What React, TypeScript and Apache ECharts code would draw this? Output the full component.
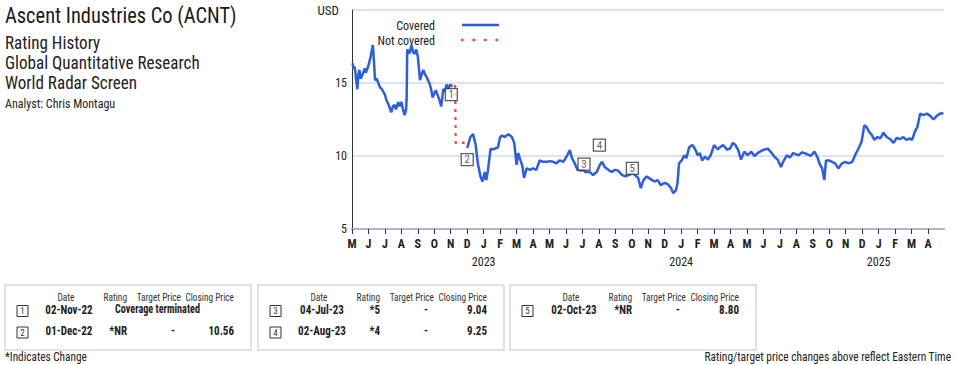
import React, { useEffect, useRef } from "react";
import * as echarts from "echarts";

const FONT = '"Roboto Condensed", Roboto, sans-serif';

// ---- data ----
const coveredBefore: [string, number][] = [
  ["2022-05-02", 16.35], ["2022-05-04", 16.0], ["2022-05-06", 16.1], ["2022-05-09", 15.2], ["2022-05-11", 14.57],
  ["2022-05-13", 15.6], ["2022-05-15", 15.9], ["2022-05-17", 15.3], ["2022-05-19", 15.4], ["2022-05-23", 15.8],
  ["2022-05-25", 16.0], ["2022-05-27", 15.7], ["2022-06-01", 16.2], ["2022-06-05", 16.8], ["2022-06-09", 17.6],
  ["2022-06-11", 16.5], ["2022-06-13", 15.2], ["2022-06-16", 15.3], ["2022-06-19", 15.0], ["2022-06-22", 14.7],
  ["2022-06-25", 14.6], ["2022-06-28", 14.4], ["2022-07-01", 14.2], ["2022-07-04", 13.8], ["2022-07-07", 13.6],
  ["2022-07-10", 13.3], ["2022-07-13", 13.0], ["2022-07-16", 13.4], ["2022-07-19", 13.5], ["2022-07-22", 13.2],
  ["2022-07-26", 13.7], ["2022-07-29", 13.4], ["2022-08-01", 13.7], ["2022-08-04", 13.2], ["2022-08-07", 12.8],
  ["2022-08-10", 13.2], ["2022-08-11", 14.1], ["2022-08-12", 17.3], ["2022-08-16", 17.0], ["2022-08-20", 17.6],
  ["2022-08-23", 17.1], ["2022-08-26", 17.0], ["2022-08-29", 17.3], ["2022-09-01", 16.8], ["2022-09-05", 15.2],
  ["2022-09-08", 15.6], ["2022-09-11", 15.9], ["2022-09-14", 15.6], ["2022-09-17", 15.4], ["2022-09-22", 15.0],
  ["2022-09-25", 14.6], ["2022-09-28", 14.0], ["2022-10-01", 14.3], ["2022-10-04", 14.5], ["2022-10-08", 14.1],
  ["2022-10-11", 13.8], ["2022-10-14", 13.4], ["2022-10-16", 14.0], ["2022-10-18", 14.6], ["2022-10-21", 14.4],
  ["2022-10-24", 14.9], ["2022-10-28", 14.6], ["2022-10-31", 14.9], ["2022-11-02", 14.8],
];

const notCovered: [string, number][] = [
  ["2022-11-02", 14.8], ["2022-11-06", 14.9], ["2022-11-09", 15.0], ["2022-11-10", 10.9],
  ["2022-11-28", 10.9], ["2022-12-01", 10.56],
];

const coveredAfter: [string, number][] = [
  ["2022-12-01", 10.56], ["2022-12-07", 11.3], ["2022-12-12", 11.5], ["2022-12-17", 10.75], ["2022-12-21", 9.5],
  ["2022-12-26", 8.6], ["2022-12-30", 8.25], ["2023-01-03", 8.9], ["2023-01-06", 8.35], ["2023-01-09", 9.0],
  ["2023-01-14", 10.5], ["2023-01-18", 10.45], ["2023-01-22", 10.5], ["2023-01-28", 10.6], ["2023-02-01", 11.3],
  ["2023-02-04", 11.4], ["2023-02-09", 11.3], ["2023-02-15", 11.5], ["2023-02-21", 11.3], ["2023-02-25", 10.9],
  ["2023-03-01", 9.4], ["2023-03-04", 10.2], ["2023-03-07", 9.85], ["2023-03-12", 9.3], ["2023-03-15", 8.5],
  ["2023-03-20", 9.15], ["2023-03-26", 9.05], ["2023-04-01", 9.15], ["2023-04-07", 9.05], ["2023-04-13", 9.7],
  ["2023-04-19", 9.6], ["2023-04-26", 9.6], ["2023-05-02", 9.65], ["2023-05-08", 9.6], ["2023-05-14", 9.5],
  ["2023-05-20", 9.7], ["2023-05-27", 9.6], ["2023-06-02", 9.95], ["2023-06-08", 10.4], ["2023-06-12", 9.85],
  ["2023-06-17", 9.5], ["2023-06-22", 9.05], ["2023-06-28", 9.0], ["2023-07-04", 9.04], ["2023-07-06", 8.9],
  ["2023-07-15", 8.9], ["2023-07-21", 8.7], ["2023-07-28", 8.9], ["2023-08-03", 9.4], ["2023-08-07", 9.6],
  ["2023-08-12", 9.25], ["2023-08-19", 9.05], ["2023-08-25", 8.9], ["2023-08-31", 9.05], ["2023-09-06", 9.0],
  ["2023-09-13", 8.7], ["2023-09-19", 8.6], ["2023-09-25", 8.7], ["2023-10-02", 8.8], ["2023-10-07", 8.7],
  ["2023-10-13", 8.5], ["2023-10-18", 7.8], ["2023-10-23", 8.35], ["2023-10-29", 8.6], ["2023-11-02", 8.5],
  ["2023-11-06", 8.4], ["2023-11-12", 8.25], ["2023-11-18", 8.35], ["2023-11-24", 8.0], ["2023-11-30", 8.15],
  ["2023-12-06", 8.1], ["2023-12-13", 7.8], ["2023-12-17", 7.45], ["2023-12-22", 7.65], ["2023-12-25", 8.1],
  ["2023-12-28", 9.5], ["2024-01-02", 9.7], ["2024-01-07", 10.05], ["2024-01-11", 9.85], ["2024-01-16", 10.6],
  ["2024-01-22", 10.75], ["2024-01-27", 10.5], ["2024-02-01", 10.05], ["2024-02-05", 10.2], ["2024-02-09", 9.7],
  ["2024-02-14", 9.95], ["2024-02-19", 9.75], ["2024-02-24", 10.05], ["2024-03-01", 10.75], ["2024-03-08", 10.45],
  ["2024-03-12", 10.6], ["2024-03-18", 10.75], ["2024-03-25", 10.45], ["2024-03-31", 10.5], ["2024-04-05", 10.9],
  ["2024-04-10", 10.75], ["2024-04-15", 10.4], ["2024-04-20", 9.75], ["2024-04-26", 10.3], ["2024-05-02", 10.05],
  ["2024-05-09", 10.3], ["2024-05-15", 10.0], ["2024-05-21", 10.2], ["2024-05-28", 10.35], ["2024-06-03", 10.45],
  ["2024-06-09", 10.5], ["2024-06-15", 10.25], ["2024-06-21", 9.95], ["2024-06-27", 9.75], ["2024-07-03", 9.25],
  ["2024-07-07", 9.6], ["2024-07-14", 10.05], ["2024-07-20", 9.9], ["2024-07-26", 10.2], ["2024-08-02", 10.1],
  ["2024-08-05", 10.05], ["2024-08-12", 10.25], ["2024-08-20", 10.15], ["2024-08-28", 10.0], ["2024-09-04", 10.3],
  ["2024-09-09", 9.95], ["2024-09-14", 9.4], ["2024-09-18", 9.15], ["2024-09-22", 8.35], ["2024-09-25", 9.7],
  ["2024-09-30", 9.7], ["2024-10-06", 9.6], ["2024-10-12", 9.5], ["2024-10-18", 9.15], ["2024-10-25", 9.5],
  ["2024-10-31", 9.6], ["2024-11-06", 9.5], ["2024-11-13", 9.6], ["2024-11-18", 10.05], ["2024-11-24", 10.5],
  ["2024-11-30", 11.0], ["2024-12-05", 12.1], ["2024-12-09", 12.0], ["2024-12-14", 11.65], ["2024-12-19", 11.45],
  ["2024-12-24", 11.1], ["2024-12-30", 11.3], ["2025-01-04", 11.2], ["2025-01-10", 11.6], ["2025-01-16", 11.3],
  ["2025-01-23", 11.15], ["2025-01-29", 10.9], ["2025-02-04", 11.25], ["2025-02-09", 11.15], ["2025-02-15", 11.3],
  ["2025-02-20", 11.1], ["2025-02-26", 11.2], ["2025-03-02", 11.1], ["2025-03-07", 11.65], ["2025-03-12", 12.0],
  ["2025-03-17", 12.9], ["2025-03-23", 12.8], ["2025-03-30", 12.9], ["2025-04-05", 12.75], ["2025-04-11", 12.5],
  ["2025-04-17", 12.75], ["2025-04-23", 12.9], ["2025-04-29", 12.95],
];

const eventNumbers = [1, 2, 3, 4, 5];
const eventIso = ["2022-11-02", "2022-12-01", "2023-07-04", "2023-08-02", "2023-10-02"];
const eventMarkerLevels = [14.2, 9.75, 9.45, 10.75, 9.15];
const eventDates = ["02-Nov-22", "01-Dec-22", "04-Jul-23", "02-Aug-23", "02-Oct-23"];
const eventRatings = ["Coverage terminated", "*NR", "*5", "*4", "*NR"];
const eventTargets = ["", "-", "-", "-", "-"];
const eventCloses = ["", "10.56", "9.04", "9.25", "8.80"];
const tableGroups = [[0, 1], [2, 3], [4]];

const monthLetters = ["J", "F", "M", "A", "M", "J", "J", "A", "S", "O", "N", "D"];
const yTicks = [5, 10, 15, 20];

// month index since May 2022
function mIdx(s: string): number {
  const [y, m, d] = s.split("-").map(Number);
  const dim = new Date(y, m, 0).getDate();
  return (y - 2022) * 12 + (m - 5) + (d - 1) / dim;
}
const toXY = (arr: [string, number][]) => arr.map(([d, v]) => [mIdx(d), v]);

function txt(x: number, y: number, text: string, size: number, opts: any = {}) {
  return {
    type: "text",
    x,
    y,
    scaleX: opts.sx || 1,
    silent: true,
    style: {
      text,
      fill: opts.fill || "#222",
      fontSize: size,
      fontFamily: FONT,
      fontWeight: opts.weight || "normal",
      align: opts.align || "left",
      verticalAlign: "middle",
    },
  };
}

function buildTables() {
  const els: any[] = [];
  const x0s = [5, 258, 510];
  const hs = { fill: "#333", sx: 0.85 };
  tableGroups.forEach((grp, gi) => {
    const x0 = x0s[gi];
    els.push({
      type: "rect",
      shape: { x: x0, y: 285, width: 246, height: 65 },
      style: { fill: "none", stroke: "#d8d8d8", lineWidth: 1.5 },
      silent: true,
    });
    els.push(txt(x0 + 61, 297.5, "Date", 11, { ...hs, align: "center" }));
    els.push(txt(x0 + 122, 297.5, "Rating", 11, { ...hs, align: "right" }));
    els.push(txt(x0 + 176, 297.5, "Target Price", 11, { ...hs, align: "right" }));
    els.push(txt(x0 + 229, 297.5, "Closing Price", 11, { ...hs, align: "right" }));
    grp.forEach((ei, ri) => {
      const ry = ri === 0 ? 309.5 : 331;
      els.push({
        type: "rect",
        shape: { x: x0 + 12, y: ry - 4, width: 11, height: 11 },
        style: { fill: "#fff", stroke: "#333", lineWidth: 1 },
        silent: true,
      });
      els.push(txt(x0 + 17.5, ry + 1.5, String(eventNumbers[ei]), 9, { align: "center", fill: "#333" }));
      const vs = { weight: "bold", sx: 0.92, fill: "#222" };
      els.push(txt(x0 + 64, ry, eventDates[ei], 12, { ...vs, align: "center" }));
      if (eventTargets[ei] === "") {
        els.push(txt(x0 + 110, ry, eventRatings[ei], 12, { ...vs, sx: 0.85, align: "left" }));
      } else {
        els.push(txt(x0 + 122, ry, eventRatings[ei], 12, { ...vs, align: "right" }));
        els.push(txt(x0 + 168, ry, eventTargets[ei], 12, { ...vs, align: "center" }));
        els.push(txt(x0 + 229, ry, eventCloses[ei], 12, { ...vs, align: "right" }));
      }
    });
  });
  return els;
}

export default function App() {
  const ref = useRef<HTMLDivElement>(null);
  useEffect(() => {
    document.body.style.margin = "0";
    if (!ref.current) return;
    const chart = echarts.init(ref.current, null, { renderer: "svg" });
    const option: any = {
      animation: false,
      textStyle: { fontFamily: FONT },
      grid: { left: 352, right: 11, top: 10, bottom: 136, containLabel: false },
      xAxis: {
        type: "value",
        min: 0,
        max: 35.97,
        interval: 1,
        axisLine: { show: true, lineStyle: { color: "#aab3cf", width: 2 } },
        axisTick: { show: true, length: 5, lineStyle: { color: "#333", width: 1 } },
        splitLine: { show: false },
        axisLabel: {
          margin: 8,
          showMaxLabel: false,
          formatter: (v: number) => {
            const i = Math.round(v);
            const cal = (i + 4) % 12;
            const letter = monthLetters[cal];
            if (cal === 0) return `{m|${letter}}\n{y|${2022 + Math.floor((i + 4) / 12)}}`;
            return `{m|${letter}}`;
          },
          rich: {
            m: { fontSize: 12, fontWeight: "bold", color: "#222", fontFamily: FONT, lineHeight: 14 },
            y: { fontSize: 12, color: "#222", fontFamily: FONT, lineHeight: 22 },
          },
        },
      },
      yAxis: {
        type: "value",
        min: yTicks[0],
        max: yTicks[yTicks.length - 1],
        interval: 5,
        axisLine: { show: true, lineStyle: { color: "#333", width: 1 } },
        axisTick: { show: false },
        splitLine: { show: true, lineStyle: { color: "#dfe3f4", width: 2 } },
        axisLabel: {
          margin: 5,
          fontSize: 12,
          color: "#222",
          formatter: (v: number) => (v === 20 ? "{u|USD}" : String(v)),
          rich: { u: { fontSize: 13, color: "#222", fontFamily: FONT, padding: [0, 8, 0, 0] } },
        },
      },
      series: [
        {
          type: "line",
          name: "Covered",
          data: toXY(coveredBefore),
          showSymbol: false,
          lineStyle: { color: "#2b5de6", width: 2.5 },
          z: 3,
        },
        {
          type: "line",
          name: "Not covered",
          data: toXY(notCovered),
          showSymbol: false,
          lineStyle: { color: "#ff3b2f", width: 2.5, type: [0.5, 7.5], cap: "round" },
          z: 2,
        },
        {
          type: "line",
          name: "Covered",
          data: toXY(coveredAfter),
          showSymbol: false,
          lineStyle: { color: "#2b5de6", width: 2.5 },
          z: 3,
        },
        {
          type: "scatter",
          data: eventNumbers.map((n, i) => [mIdx(eventIso[i]), eventMarkerLevels[i], n]),
          symbol: "rect",
          symbolSize: [12, 12],
          itemStyle: { color: "#fff", borderColor: "#333", borderWidth: 1.3 },
          label: {
            show: true,
            position: "inside",
            formatter: (p: any) => String(p.data[2]),
            fontSize: 11,
            color: "#333",
            fontFamily: FONT,
          },
          z: 5,
        },
      ],
      graphic: [
        txt(5, 15, "Ascent Industries Co (ACNT)", 22, { fill: "#1a1a1a", sx: 0.93 }),
        txt(5, 43, "Rating History", 18, { sx: 0.95 }),
        txt(5, 63, "Global Quantitative Research", 18, { sx: 0.95 }),
        txt(5, 83, "World Radar Screen", 18, { sx: 0.95 }),
        txt(5, 103, "Analyst: Chris Montagu", 13, { sx: 0.925 }),
        txt(435, 25, "Covered", 13, { align: "right", sx: 0.93 }),
        txt(435, 40, "Not covered", 13, { align: "right", sx: 0.93 }),
        {
          type: "line",
          shape: { x1: 462, y1: 25, x2: 499, y2: 25 },
          style: { stroke: "#2b5de6", lineWidth: 2.5 },
          silent: true,
        },
        {
          type: "line",
          shape: { x1: 462, y1: 40, x2: 499, y2: 40 },
          style: { stroke: "#ff3b2f", lineWidth: 2.5, lineDash: [0.5, 11], lineCap: "round" },
          silent: true,
        },
        ...buildTables(),
        txt(5, 357, "*Indicates Change", 12, { sx: 0.94 }),
        txt(951, 357, "Rating/target price changes above reflect Eastern Time", 12, { align: "right", sx: 0.95 }),
      ],
    };
    chart.setOption(option);
    return () => chart.dispose();
  }, []);
  return <div ref={ref} style={{ width: 955, height: 365 }} />;
}
